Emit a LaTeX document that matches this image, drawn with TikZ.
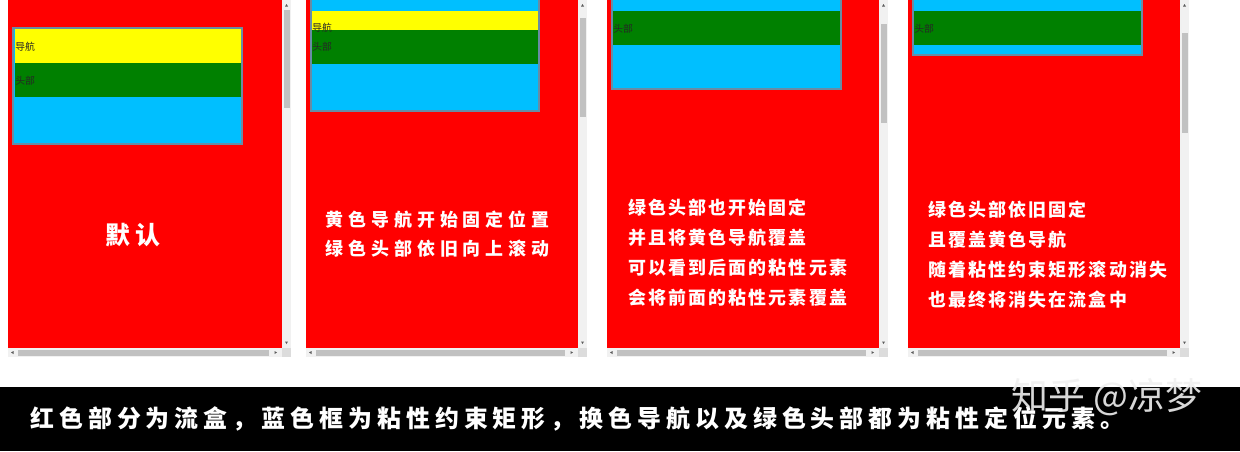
\documentclass[tikz,border=0pt]{standalone}
\usepackage{fontspec}
\newfontfamily\cjk{Noto Sans CJK SC}
\newfontfamily\cjkwide[LetterSpace=28]{Noto Sans CJK SC}
\newfontfamily\cjkmid[LetterSpace=12]{Noto Sans CJK SC}
\newfontfamily\cjkcap[LetterSpace=21]{Noto Sans CJK SC}
\newfontfamily\cjkbig[LetterSpace=20]{Noto Sans CJK SC}
\definecolor{flowred}{RGB}{255,0,0}
\definecolor{stickyblue}{RGB}{0,191,255}
\definecolor{navyellow}{RGB}{255,255,0}
\definecolor{headgreen}{RGB}{0,128,0}
\definecolor{boxedge}{RGB}{105,140,165}
\definecolor{trackgray}{RGB}{241,241,241}
\definecolor{thumbgray}{RGB}{193,193,193}
\definecolor{cornergray}{RGB}{220,220,220}
\definecolor{tipgray}{RGB}{90,90,90}
\usetikzlibrary{positioning}
\tikzset{
  stickybox/.style={fill=stickyblue, draw=boxedge, line width=0.85pt},
  navbar/.style={fill=navyellow},
  headbar/.style={fill=headgreen},
  tag/.style={font=\cjk\fontsize{5.6}{6}\selectfont, text=black!85, inner sep=0pt, anchor=west},
  note/.style={font=\cjkmid\bfseries\fontsize{10.2}{17}\selectfont, text=white, align=left, inner sep=0pt, anchor=west},
  capline/.style={font=\cjkcap\bfseries\fontsize{13.6}{16}\selectfont, text=white, inner sep=0pt, anchor=west},
  wmark/.style={font=\cjk\fontsize{21}{24}\selectfont, text=white!88!gray, opacity=0.9, inner sep=0pt, anchor=west},
}
\begin{document}
\begin{tikzpicture}[x=0.02cm, y=-0.02cm]
  \useasboundingbox[fill=white] (0,0) rectangle (1240,451);
  % flow boxes with their scroll bars: left edge / width / thumb top / thumb bottom
  \foreach \px/\w/\ta/\tb in {8/274/10/108, 306/272/18/117, 607/272/24/123, 908/272/33/133}{
    \fill[flowred] (\px,0) rectangle (\px+\w,348);
    \fill[trackgray] (\px+\w,0) rectangle (\px+\w+9,348);
    \fill[thumbgray] (\px+\w+1.5,\ta) rectangle (\px+\w+7.5,\tb);
    \fill[trackgray] (\px,348) rectangle (\px+\w,357);
    \fill[thumbgray] (\px+10,349.5) rectangle (\px+\w-13,355.5);
    \fill[cornergray] (\px+\w,348) rectangle (\px+\w+9,357);
    \fill[tipgray] (\px+\w+3,6.5) -- (\px+\w+6,6.5) -- (\px+\w+4.5,4) -- cycle;
    \fill[tipgray] (\px+\w+3,341.5) -- (\px+\w+6,341.5) -- (\px+\w+4.5,344) -- cycle;
    \fill[tipgray] (\px+5.5,351) -- (\px+5.5,354) -- (\px+3,352.5) -- cycle;
    \fill[tipgray] (\px+\w-7.5,351) -- (\px+\w-7.5,354) -- (\px+\w-5,352.5) -- cycle;
  }

  % default
  \draw[stickybox] (13,28) rectangle (242,144);
  \fill[navbar] (14.5,29) rectangle (241,63);
  \fill[headbar] (14.5,63) rectangle (241,97);
  \node[tag] (nav1) at (15,47) {导航};
  \node[tag] (head1) at (15,81) {头部};
  \node[font=\cjkbig\bfseries\fontsize{14.2}{16}\selectfont, text=white, inner sep=0pt] (txt1) at (133,235) {默认};

  % nav stuck
  \draw[stickybox] (311,-3) rectangle (539,111);
  \fill[navyellow] (312,11) rectangle (538,30);
  \fill[headbar] (312,30) rectangle (538,64);
  \node[tag] (nav2) at (312,28) {导航};
  \node[tag] (head2) at (312,47) {头部};
  \node[note, font=\cjkwide\bfseries\fontsize{10.2}{17}\selectfont] (txt2) at (325,234) {黄色导航开始固定位置\\绿色头部依旧向上滚动};

  % head stuck
  \draw[stickybox] (612,-3) rectangle (841,89);
  \fill[headbar] (613,11) rectangle (839.5,45);
  \node[tag] (head3) at (613,29) {头部};
  \node[note] (txt3) at (628,252.5) {绿色头部也开始固定\\并且将黄色导航覆盖\\可以看到后面的粘性元素\\会将前面的粘性元素覆盖};

  % leaving
  \draw[stickybox] (913,-3) rectangle (1142,55);
  \fill[headbar] (914,11) rectangle (1140.5,45);
  \node[tag] (head4) at (914,29) {头部};
  \node[note] (txt4) at (928,254.5) {绿色头部依旧固定\\且覆盖黄色导航\\随着粘性约束矩形滚动消失\\也最终将消失在流盒中};

  % caption
  \fill[black] (0,387) rectangle (1240,451);
  \node[capline] (cap) at (30,419) {红色部分为流盒，蓝色框为粘性约束矩形，换色导航以及绿色头部都为粘性定位元素。};
  \node[wmark] (zh) at (1011,397) {知乎 @凉梦};
\end{tikzpicture}
\end{document}
